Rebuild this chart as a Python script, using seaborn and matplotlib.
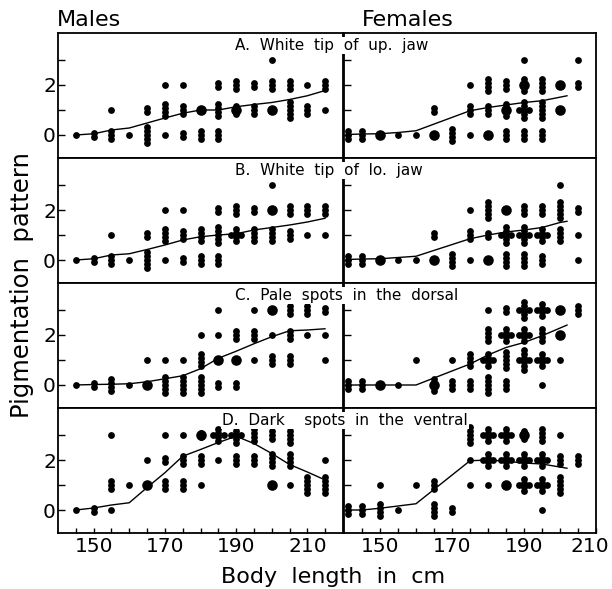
import matplotlib
matplotlib.use("Agg")
import matplotlib.pyplot as plt
import matplotlib.transforms as mtransforms
import numpy as np
import pandas as pd
import seaborn as sns

sns.set_theme(style="white")
plt.rcParams["font.family"] = ["DejaVu Sans"]
plt.rcParams["text.color"] = "black"
plt.rcParams["axes.labelcolor"] = "black"
plt.rcParams["xtick.color"] = "black"
plt.rcParams["ytick.color"] = "black"

# ---------------- data ----------------
MALE_X = [145, 150, 155, 160, 165, 170, 175, 180, 185, 190, 195, 200, 205, 210, 215]
FEMALE_X = [141, 145, 150, 155, 160, 165, 170, 175, 180, 185, 190, 195, 200, 205]
LEVELS = [0, 1, 2, 3]
PANEL_TITLES = ["A.  White  tip  of  up.  jaw", "B.  White  tip  of  lo.  jaw",
                "C.  Pale  spots  in  the  dorsal", "D.  Dark    spots  in  the  ventral"]
X_TICK_LABELS = [150, 170, 190, 210]
Y_TICK_LABELS = ["0", "", "2", ""]

# counts of individuals per score level (rows: score 0,1,2,3), one column per length class
a_male = [[1, 2, 3, 1, 5, 1, 2, 3, 3, 0, 0, 0, 0, 0, 0],
          [0, 0, 1, 0, 2, 4, 3, 1, 4, 3, 3, 0, 5, 3, 1],
          [0, 0, 0, 0, 0, 1, 1, 0, 2, 3, 2, 3, 3, 1, 3],
          [0, 0, 0, 0, 0, 0, 0, 0, 0, 0, 0, 1, 0, 0, 0]]
a_male_big = [(180, 1), (190, 1), (200, 1)]
a_male_line = [0.0, 0.05, 0.2, 0.28, 0.48, 0.68, 0.87, 1.0, 1.0, 1.13, 1.22, 1.3, 1.42, 1.57, 1.78]

a_female = [[3, 3, 1, 1, 1, 0, 4, 1, 0, 3, 3, 3, 0, 0],
            [0, 0, 0, 0, 0, 2, 0, 3, 3, 4, 7, 5, 1, 0],
            [0, 0, 0, 0, 0, 0, 0, 1, 4, 3, 4, 4, 0, 2],
            [0, 0, 0, 0, 0, 0, 0, 0, 0, 0, 1, 0, 0, 1]]
a_female_big = [(150, 0), (165, 0), (180, 0), (185, 1), (200, 1), (190, 2), (200, 2)]
a_female_line_x = [141, 145, 150, 155, 160, 175, 180, 185, 190, 195, 202]
a_female_line = [0.02, 0.04, 0.05, 0.1, 0.17, 0.97, 1.1, 1.2, 1.3, 1.37, 1.57]

b_male = [[1, 2, 3, 1, 5, 1, 2, 3, 3, 0, 0, 0, 0, 0, 0],
          [0, 0, 1, 0, 2, 4, 3, 4, 5, 6, 4, 4, 3, 1, 1],
          [0, 0, 0, 0, 0, 1, 1, 0, 2, 3, 2, 0, 3, 3, 3],
          [0, 0, 0, 0, 0, 0, 0, 0, 0, 0, 0, 1, 0, 0, 0]]
b_male_big = [(200, 2)]
b_male_line = [0.0, 0.05, 0.2, 0.25, 0.42, 0.6, 0.8, 0.93, 1.0, 1.05, 1.2, 1.3, 1.4, 1.52, 1.67]

b_female = [[3, 3, 0, 1, 1, 0, 4, 1, 0, 4, 4, 3, 0, 1],
            [0, 0, 0, 0, 0, 2, 0, 3, 2, 7, 7, 6, 4, 1],
            [0, 0, 0, 0, 0, 0, 0, 1, 5, 0, 3, 3, 5, 2],
            [0, 0, 0, 0, 0, 0, 0, 0, 0, 0, 0, 0, 1, 0]]
b_female_big = [(150, 0), (165, 0), (180, 0), (185, 2)]
b_female_line_x = [141, 145, 150, 155, 160, 175, 180, 185, 190, 195, 200, 202]
b_female_line = [0.02, 0.04, 0.05, 0.1, 0.15, 0.85, 1.0, 1.12, 1.2, 1.3, 1.5, 1.55]

c_male = [[1, 2, 4, 1, 0, 5, 5, 5, 2, 2, 0, 0, 0, 0, 0],
          [0, 0, 0, 0, 1, 1, 1, 4, 0, 1, 1, 3, 3, 0, 1],
          [0, 0, 0, 0, 0, 0, 0, 1, 1, 3, 3, 1, 3, 1, 1],
          [0, 0, 0, 0, 0, 0, 0, 0, 1, 0, 1, 1, 3, 3, 2]]
c_male_big = [(165, 0), (185, 1), (190, 1), (200, 3)]
c_male_line = [0.0, 0.02, 0.03, 0.05, 0.13, 0.25, 0.37, 0.65, 1.07, 1.35, 1.65, 1.93, 2.17, 2.2, 2.25]

c_female = [[3, 3, 0, 1, 0, 4, 3, 3, 5, 3, 0, 1, 0, 0],
            [0, 0, 0, 0, 1, 0, 1, 4, 6, 5, 8, 6, 1, 0],
            [0, 0, 0, 0, 0, 0, 0, 0, 4, 6, 6, 4, 0, 0],
            [0, 0, 0, 0, 0, 0, 0, 0, 1, 2, 7, 6, 0, 3]]
c_female_big = [(150, 0), (165, 0), (200, 2), (200, 3)]
c_female_line_x = [141, 145, 150, 155, 160, 175, 180, 185, 190, 195, 202]
c_female_line = [0.0, 0.0, 0.0, 0.0, 0.0, 0.84, 1.2, 1.5, 1.7, 1.97, 2.4]

d_male = [[1, 2, 1, 0, 0, 0, 0, 0, 0, 0, 0, 0, 0, 0, 0],
          [0, 0, 3, 1, 0, 3, 3, 1, 0, 0, 0, 0, 1, 5, 5],
          [0, 0, 0, 0, 1, 2, 3, 3, 1, 3, 3, 4, 4, 0, 1],
          [0, 0, 1, 0, 0, 1, 1, 2, 6, 7, 4, 3, 5, 0, 0]]
d_male_big = [(165, 1), (200, 1), (180, 3)]
d_male_line = [0.0, 0.08, 0.2, 0.29, 0.9, 1.49, 2.15, 2.42, 2.7, 2.95, 2.66, 2.26, 1.82, 1.52, 1.2]

d_female = [[3, 3, 4, 1, 0, 4, 2, 0, 0, 0, 0, 1, 0, 0],
            [0, 0, 1, 0, 1, 3, 0, 1, 1, 0, 6, 6, 5, 0],
            [0, 0, 0, 0, 0, 0, 0, 1, 6, 6, 6, 6, 3, 3],
            [0, 0, 0, 0, 0, 0, 0, 5, 6, 6, 3, 4, 1, 0]]
d_female_big = [(185, 1), (190, 3)]
d_female_line_x = [141, 145, 150, 160, 175, 180, 185, 190, 195, 202]
d_female_line = [0.0, 0.0, 0.07, 0.25, 1.97, 2.0, 1.95, 1.88, 1.84, 1.67]

# ---------------- helpers ----------------
DY = 0.16   # vertical spacing of stacked dots (score units)
DX = 1.5    # horizontal arm of a cross-shaped cluster (cm)


def dots_frame(xs, counts):
    rows = []
    for lev, row in zip(LEVELS, counts):
        for x, n in zip(xs, row):
            if n <= 0:
                continue
            nv = n if n <= 5 else n - 2
            for k in range(nv):
                rows.append((x, lev + (k - (nv - 1) / 2) * DY))
            if n > 5:
                rows.append((x - DX, lev))
                rows.append((x + DX, lev))
    return pd.DataFrame(rows, columns=["x", "y"])


def big_frame(bigs):
    return pd.DataFrame(bigs, columns=["x", "y"])


panels = [
    (a_male, a_male_big, MALE_X, a_male_line, a_female, a_female_big, a_female_line_x, a_female_line),
    (b_male, b_male_big, MALE_X, b_male_line, b_female, b_female_big, b_female_line_x, b_female_line),
    (c_male, c_male_big, MALE_X, c_male_line, c_female, c_female_big, c_female_line_x, c_female_line),
    (d_male, d_male_big, MALE_X, d_male_line, d_female, d_female_big, d_female_line_x, d_female_line),
]

W, H = 612, 589
fig = plt.figure(figsize=(W / 100, H / 100), dpi=100)
fig.patch.set_facecolor("white")

tops = [33, 158, 283, 408]
ph = 125
title_x = [235, 235, 235, 222]
SMALL, BIG = 24, 58


def style_axis(ax, xlim, xticks, show_ylabels, bottom):
    ax.set_facecolor("white")
    ax.set_xlim(*xlim)
    ax.set_ylim(-0.92, 4.08)
    ax.set_yticks(LEVELS)
    ax.set_yticklabels(Y_TICK_LABELS if show_ylabels else ["", "", "", ""])
    ax.set_xticks(xticks)
    if bottom:
        ax.set_xticklabels([str(v) if v in X_TICK_LABELS else "" for v in xticks])
    else:
        ax.set_xticklabels([])
    ax.tick_params(axis="y", direction="in", length=5, width=1.0, pad=1.5,
                   labelsize=14.5, left=True, right=False, colors="black")
    ax.tick_params(axis="x", direction="in", length=3.5 if bottom else 0, width=1.0, pad=3,
                   labelsize=14.5, bottom=True, top=False, colors="black")
    for sp in ax.spines.values():
        sp.set_visible(True)
        sp.set_color("black")
        sp.set_linewidth(1.3)
    ax.set_xlabel("")
    ax.set_ylabel("")


for r, (mc, mb, mx, ml, fc, fb, flx, fl) in enumerate(panels):
    top = tops[r]
    bottom = 1 - (top + ph) / H
    axm = fig.add_axes([58 / W, bottom, 285 / W, ph / H])
    axf = fig.add_axes([344 / W, bottom, 252 / W, ph / H])

    # males
    sns.lineplot(x=mx, y=ml, ax=axm, color="black", linewidth=1.0,
                 estimator=None, sort=False, zorder=2)
    sns.scatterplot(data=dots_frame(mx, mc), x="x", y="y", ax=axm, color="black",
                    s=SMALL, linewidth=0, legend=False, zorder=3)
    sns.scatterplot(data=big_frame(mb), x="x", y="y", ax=axm, color="black",
                    s=BIG, linewidth=0, legend=False, zorder=3)
    style_axis(axm, (140, 220), list(range(145, 216, 5)), True, r == 3)

    # females
    sns.lineplot(x=flx, y=fl, ax=axf, color="black", linewidth=1.0,
                 estimator=None, sort=False, zorder=2)
    sns.scatterplot(data=dots_frame(FEMALE_X, fc), x="x", y="y", ax=axf, color="black",
                    s=SMALL, linewidth=0, legend=False, zorder=3)
    sns.scatterplot(data=big_frame(fb), x="x", y="y", ax=axf, color="black",
                    s=BIG, linewidth=0, legend=False, zorder=3)
    style_axis(axf, (140, 210), list(range(145, 211, 5)), False, r == 3)

    if r == 3:
        # nudge the right-most female label so it stays inside the figure
        last = axf.get_xticklabels()[-1]
        last.set_transform(last.get_transform() +
                           mtransforms.ScaledTranslation(-6 / 100, 0, fig.dpi_scale_trans))

    fig.text(title_x[r] / W, 1 - (top + 17) / H, PANEL_TITLES[r], fontsize=11,
             ha="left", va="baseline", zorder=10,
             bbox=dict(facecolor="white", edgecolor="none", pad=1.0))

fig.text(57 / W, 1 - 26 / H, "Males", fontsize=16, ha="left", va="baseline")
fig.text(362 / W, 1 - 26 / H, "Females", fontsize=16, ha="left", va="baseline")
fig.text(22 / W, 1 - 285 / H, "Pigmentation  pattern", fontsize=17.5, rotation=90,
         ha="center", va="center")
fig.text(333 / W, 1 - 577 / H, "Body  length  in  cm", fontsize=16, ha="center", va="center")

fig.savefig("out.png", dpi=100)
